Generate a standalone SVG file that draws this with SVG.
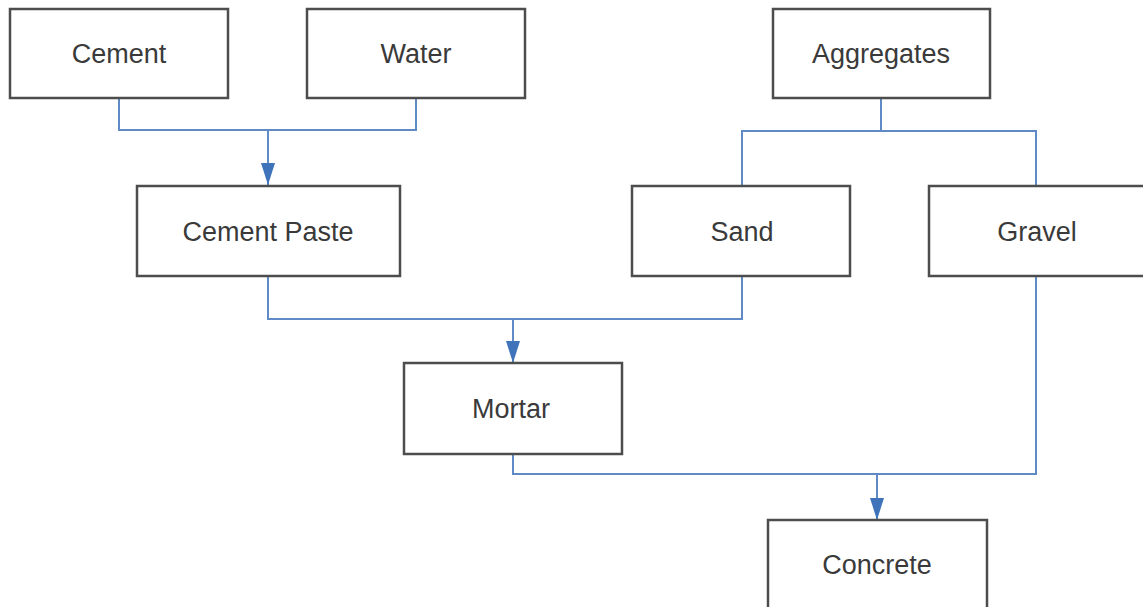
<svg xmlns="http://www.w3.org/2000/svg" width="1143" height="607" viewBox="0 0 1143 607">
<style>
.box{fill:#fff;stroke:#4d4d4d;stroke-width:2.5}
.lbl{font-family:"Liberation Sans",Arial,sans-serif;font-size:27px;fill:#3a3a3a;text-anchor:middle}
.con{fill:none;stroke:#5f8ac6;stroke-width:2}
</style>
<defs>
<marker id="arr" viewBox="0 0 22 14" refX="22" refY="7" markerWidth="22" markerHeight="14" markerUnits="userSpaceOnUse" orient="auto">
<path d="M0,0 L22,7 L0,14 Z" fill="#3f74ba"/>
</marker>
</defs>
<rect width="1143" height="607" fill="#fff"/>
<g id="connectors">
<path class="con" d="M119,98 V130 H416 V98"/>
<path class="con" d="M268,130 V185" marker-end="url(#arr)"/>
<path class="con" d="M881,98 V131 H742 V186 M881,131 H1036 V186"/>
<path class="con" d="M268,276 V319 H742 V276"/>
<path class="con" d="M513,319 V363" marker-end="url(#arr)"/>
<path class="con" d="M513,454 V474 H1036 V276"/>
<path class="con" d="M877,474 V520" marker-end="url(#arr)"/>
</g>
<g id="cement"><rect class="box" x="10" y="9" width="218" height="89"/><text class="lbl" x="119" y="63">Cement</text></g>
<g id="water"><rect class="box" x="307" y="9" width="218" height="89"/><text class="lbl" x="416" y="63">Water</text></g>
<g id="aggregates"><rect class="box" x="773" y="9" width="217" height="89"/><text class="lbl" x="881" y="63">Aggregates</text></g>
<g id="cement-paste"><rect class="box" x="137" y="186" width="263" height="90"/><text class="lbl" x="268" y="241">Cement Paste</text></g>
<g id="sand"><rect class="box" x="632" y="186" width="218" height="90"/><text class="lbl" x="742" y="241">Sand</text></g>
<g id="gravel"><rect class="box" x="929" y="186" width="217" height="90"/><text class="lbl" x="1037" y="241">Gravel</text></g>
<g id="mortar"><rect class="box" x="404" y="363" width="218" height="91"/><text class="lbl" x="511" y="418">Mortar</text></g>
<g id="concrete"><rect class="box" x="768" y="520" width="219" height="95"/><text class="lbl" x="877" y="574">Concrete</text></g>
</svg>
